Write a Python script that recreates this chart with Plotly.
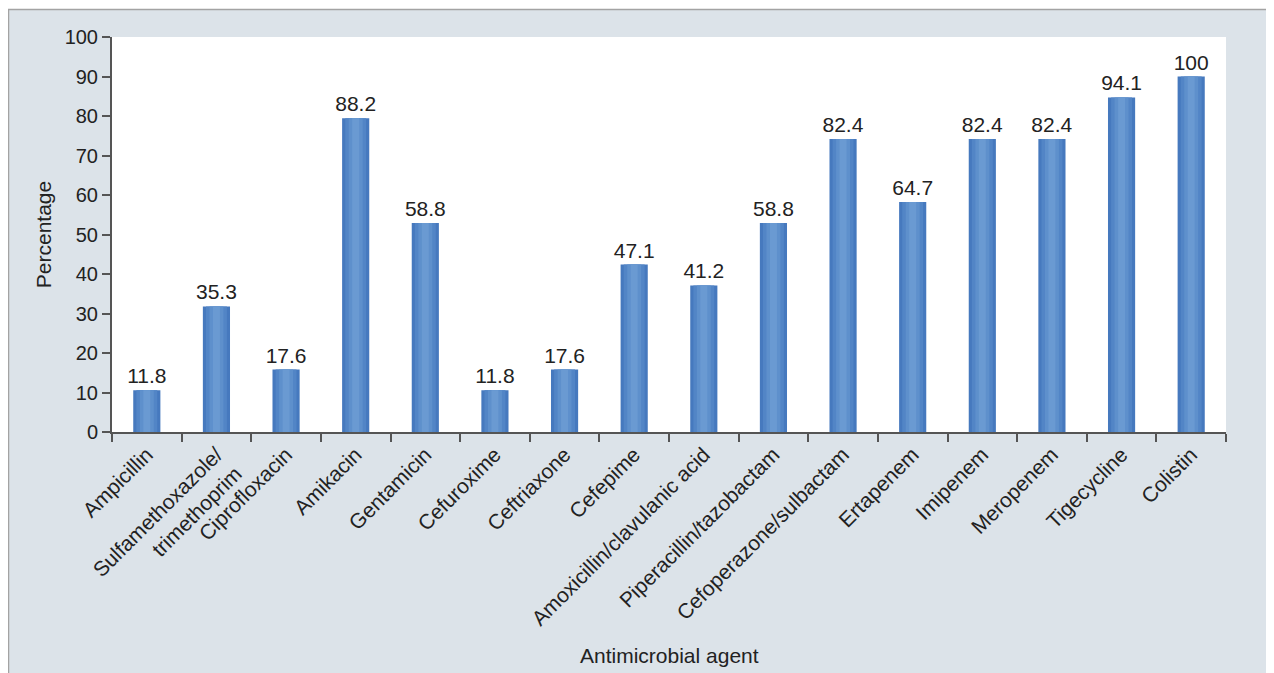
import plotly.graph_objects as go

categories = ["Ampicillin", "Sulfamethoxazole/<br>trimethoprim", "Ciprofloxacin", "Amikacin",
              "Gentamicin", "Cefuroxime", "Ceftriaxone", "Cefepime",
              "Amoxicillin/clavulanic acid", "Piperacillin/tazobactam",
              "Cefoperazone/sulbactam", "Ertapenem", "Imipenem", "Meropenem",
              "Tigecycline", "Colistin"]
# bar heights as drawn in the picture
bar_heights = [10.6, 31.8, 15.8, 79.4, 52.9, 10.6, 15.8, 42.4, 37.1, 52.9,
               74.2, 58.2, 74.2, 74.2, 84.7, 90.0]
# value labels printed above the bars
value_labels = ["11.8", "35.3", "17.6", "88.2", "58.8", "11.8", "17.6", "47.1",
                "41.2", "58.8", "82.4", "64.7", "82.4", "82.4", "94.1", "100"]
y_ticks = [0, 10, 20, 30, 40, 50, 60, 70, 80, 90, 100]

FONT = "Liberation Sans, Arial, sans-serif"
ML, MR, MT, MB = 104, 56, 29, 249
W, H = 1274, 673
PW, PH = W - ML - MR, H - MT - MB
fig = go.Figure()

layers = [(0.39, "#4679be"), (0.30, "#5285c6"), (0.20, "#5e90cc"), (0.10, "#6a9ad2")]
for i, (w, c) in enumerate(layers):
    fig.add_trace(go.Bar(
        x=categories, y=bar_heights, width=w,
        marker=dict(color=c, line=dict(width=0)),
        text=value_labels if i == 0 else None,
        textposition="outside" if i == 0 else "none",
        constraintext="none",
        textfont=dict(family=FONT, size=21, color="#222222"),
        cliponaxis=False, hoverinfo="skip", showlegend=False,
    ))

fig.update_layout(
    width=W, height=H, autosize=False,
    barmode="overlay",
    paper_bgcolor="white", plot_bgcolor="white",
    margin=dict(l=ML, r=MR, t=MT, b=MB),
    font=dict(family=FONT, size=20, color="#333333"),
    shapes=[dict(type="rect", xref="paper", yref="paper",
                 x0=(0.5 - ML) / PW, x1=1.3, y0=-1.0, y1=(PH + MT - 1.5) / PH,
                 fillcolor="#dce3e9", line=dict(color="#a3a3a3", width=1.5),
                 layer="below"),
            dict(type="rect", xref="paper", yref="paper", x0=0, x1=1, y0=0, y1=1,
                 fillcolor="white", line=dict(width=0), layer="below")],
    annotations=[dict(text="Antimicrobial agent", xref="paper", yref="paper",
                      x=0.5, y=(PH + MT - 647) / PH, xanchor="center", yanchor="middle",
                      showarrow=False, font=dict(family=FONT, size=21, color="#222222"))],
)
fig.update_xaxes(type="category", tickangle=-45, ticks="outside", tickson="boundaries",
                 ticklen=8, tickwidth=1.5, tickcolor="#555555",
                 showline=True, linecolor="#555555", linewidth=2,
                 showgrid=False, tickfont=dict(family=FONT, size=21, color="#222222"))
fig.update_yaxes(range=[0, 100], tickvals=y_ticks, ticks="outside", ticklen=8,
                 tickwidth=1.5, tickcolor="#555555",
                 showline=True, linecolor="#555555", linewidth=2,
                 showgrid=False, zeroline=False,
                 tickfont=dict(family=FONT, size=20, color="#222222"),
                 title=dict(text="Percentage", standoff=7,
                            font=dict(family=FONT, size=21, color="#222222")))

fig.write_html("out.html")
